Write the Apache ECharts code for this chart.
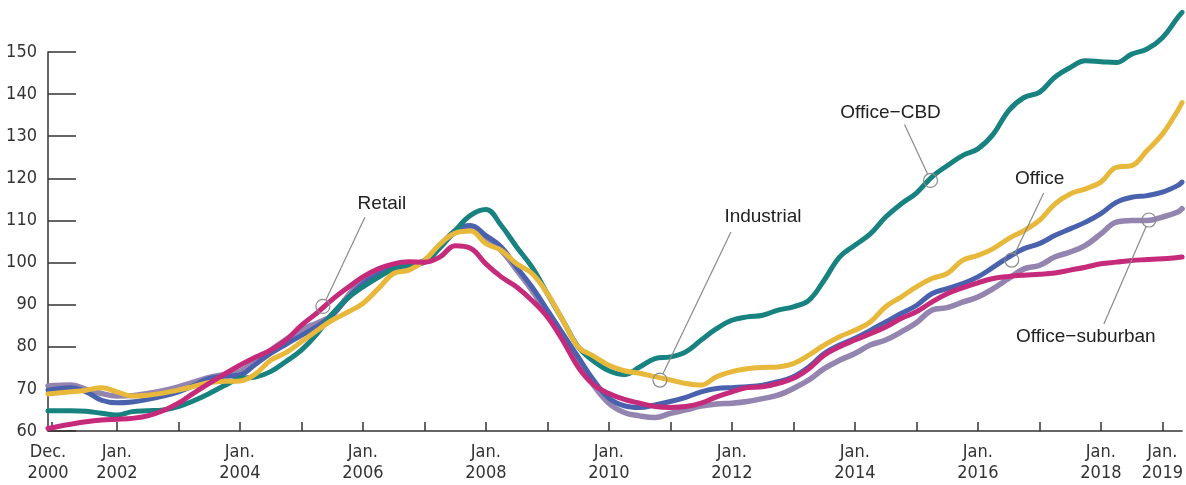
<!DOCTYPE html>
<html>
<head>
<meta charset="utf-8">
<script src="https://cdn.jsdelivr.net/npm/echarts@6/dist/echarts.min.js"></script>
<style>
  html, body { margin: 0; padding: 0; background: #ffffff; }
  #chart { width: 1186px; height: 485px; }
</style>
</head>
<body>
<div id="chart"></div>
<script>
// ---- Data (decimal years; quarterly readings) ----
const dates = [2000.88,
  2001.25, 2001.5, 2001.75, 2002, 2002.25, 2002.5, 2002.75, 2003, 2003.25, 2003.5, 2003.75, 2004,
  2004.25, 2004.5, 2004.75, 2005, 2005.25, 2005.5, 2005.75, 2006, 2006.25, 2006.5, 2006.75, 2007,
  2007.25, 2007.5, 2007.75, 2008, 2008.25, 2008.5, 2008.75, 2009, 2009.25, 2009.5, 2009.75, 2010,
  2010.25, 2010.5, 2010.75, 2011, 2011.25, 2011.5, 2011.75, 2012, 2012.25, 2012.5, 2012.75, 2013,
  2013.25, 2013.5, 2013.75, 2014, 2014.25, 2014.5, 2014.75, 2015, 2015.25, 2015.5, 2015.75, 2016,
  2016.25, 2016.5, 2016.75, 2017, 2017.25, 2017.5, 2017.75, 2018, 2018.25, 2018.5, 2018.75, 2019,
  2019.25, 2019.32];

const officeSuburban = [70.7,
  70.9, 69.9, 68.9, 68.3, 68.4, 68.9, 69.6, 70.5, 71.6, 72.7, 73.4, 74.1,
  76.5, 79.2, 81.7, 84.1, 85.6, 87.5, 92.0, 95.8, 97.4, 98.5, 99.3, 100.1,
  103.5, 107.2, 108.4, 106.0, 102.9, 98.2, 93.4, 87.9, 82.4, 76.8, 70.9, 66.6,
  64.4, 63.6, 63.2, 64.2, 65.0, 65.9, 66.4, 66.6, 67.0, 67.7, 68.5, 70.1,
  72.1, 74.8, 76.8, 78.4, 80.4, 81.6, 83.5, 85.7, 88.7, 89.3, 90.6, 91.8,
  93.8, 96.2, 98.5, 99.3, 101.3, 102.5, 104.1, 106.8, 109.6, 110.0, 110.0, 110.8,
  112.0, 112.8];

const office = [69.7,
  70.3, 69.3, 67.3, 66.7, 66.9, 67.5, 68.3, 69.3, 70.8, 72.5, 73.0, 73.3,
  75.8, 78.4, 80.6, 82.7, 84.8, 87.5, 91.5, 95.0, 97.2, 98.8, 99.5, 100.5,
  104.0, 107.6, 108.8, 106.4, 103.7, 98.9, 94.2, 88.7, 83.1, 77.6, 72.1, 67.8,
  66.0, 65.6, 66.2, 67.0, 68.0, 69.3, 70.1, 70.3, 70.5, 70.9, 71.7, 72.9,
  75.2, 78.4, 80.4, 82.0, 83.9, 85.9, 87.9, 89.8, 92.6, 93.8, 95.0, 96.6,
  98.9, 101.3, 103.3, 104.5, 106.4, 108.0, 109.6, 111.6, 114.3, 115.5, 115.9, 116.7,
  118.3, 119.1];

const officeCBD = [64.8,
  64.8, 64.7, 64.2, 63.8, 64.6, 64.8, 65.0, 65.8, 67.2, 68.9, 70.8, 72.5,
  72.8, 74.1, 76.5, 79.2, 83.0, 87.8, 91.5, 94.2, 96.5, 98.5, 99.5, 100.1,
  103.5, 107.6, 111.2, 112.6, 108.8, 103.7, 98.9, 92.6, 86.3, 80.0, 76.6, 74.3,
  73.4, 75.2, 77.2, 77.6, 78.8, 81.6, 84.3, 86.3, 87.1, 87.5, 88.7, 89.5,
  91.0, 95.8, 101.3, 104.1, 106.8, 110.8, 113.9, 116.5, 120.3, 123.0, 125.4, 127.0,
  130.5, 136.1, 139.2, 140.4, 144.0, 146.3, 147.9, 147.7, 147.5, 149.5, 150.7, 153.4,
  158.2, 159.4];

const industrial = [68.8,
  69.3, 69.7, 70.3, 69.3, 68.3, 68.5, 69.0, 69.7, 70.6, 71.5, 71.8, 71.9,
  73.5, 76.8, 78.6, 81.2, 83.8, 86.3, 88.2, 90.3, 93.8, 97.4, 98.2, 100.5,
  104.3, 107.0, 107.5, 104.5, 102.9, 99.7, 97.4, 92.6, 86.3, 80.0, 77.8, 75.6,
  74.3, 73.7, 72.9, 72.1, 71.3, 70.9, 72.9, 74.1, 74.8, 75.1, 75.2, 76.0,
  78.0, 80.4, 82.4, 83.9, 85.9, 89.5, 91.8, 94.2, 96.2, 97.4, 100.5, 101.7,
  103.3, 105.7, 107.6, 110.0, 113.9, 116.3, 117.5, 119.1, 122.6, 123.0, 126.6, 130.5,
  136.1, 138.0];

const retail = [60.6,
  61.6, 62.2, 62.6, 62.8, 63.0, 63.6, 64.8, 66.6, 69.0, 71.3, 73.5, 75.6,
  77.5, 79.2, 81.6, 85.1, 88.0, 91.2, 94.0, 96.6, 98.5, 99.7, 100.2, 100.1,
  101.3, 104.0, 103.4, 99.7, 96.6, 94.2, 91.0, 87.1, 81.5, 75.2, 71.0, 68.9,
  67.5, 66.6, 65.8, 65.6, 65.8, 66.6, 68.1, 69.3, 70.3, 70.5, 71.3, 72.5,
  74.8, 78.0, 80.0, 81.6, 83.1, 84.7, 86.7, 88.3, 90.6, 92.6, 94.0, 95.2,
  96.2, 96.7, 97.0, 97.2, 97.5, 98.2, 98.9, 99.7, 100.1, 100.5, 100.7, 100.9,
  101.2, 101.3];

// Axis ticks and labels
const xTickYears = [2000.94, 2002, 2003, 2004, 2005, 2006, 2007, 2008, 2009, 2010,
  2011, 2012, 2013, 2014, 2015, 2016, 2017, 2018, 2019];
const xLabelYears = [2000.88, 2002, 2004, 2006, 2008, 2010, 2012, 2014, 2016, 2018, 2019];
const xLabelTexts = ['Dec.\n2000', 'Jan.\n2002', 'Jan.\n2004', 'Jan.\n2006', 'Jan.\n2008',
  'Jan.\n2010', 'Jan.\n2012', 'Jan.\n2014', 'Jan.\n2016', 'Jan.\n2018', 'Jan.\n2019'];
const yTicks = [60, 70, 80, 90, 100, 110, 120, 130, 140, 150];

// Annotations
const annoNames = ['Retail', 'Industrial', 'Office\u2212CBD', 'Office', 'Office\u2212suburban'];
const annoYears = [2005.35, 2010.83, 2015.23, 2016.55, 2018.78];
const annoValues = [89.6, 72.1, 119.5, 100.6, 110.1];
const annoTextOffsets = [[59, -103], [103, -163], [-40, -68], [28, -81], [-63, 117]];
const annoLeaderOffsets = [[42, -89], [71, -148], [-26, -56], [32, -67], [-45, 104]];

const colors = {
  officeSuburban: '#9384b0',
  office: '#4a62ad',
  officeCBD: '#178280',
  industrial: '#e8b83b',
  retail: '#c62a7b'
};

function pairs(vals) { return dates.map((d, i) => [d, vals[i]]); }

const chart = echarts.init(document.getElementById('chart'), null, { renderer: 'canvas' });
const tickFont = '"Liberation Sans Narrow", "DejaVu Sans Condensed", "Arial Narrow", sans-serif';

function mkSeries(name, vals, color, width) {
  return {
    name: name, type: 'line', data: pairs(vals), showSymbol: false, symbol: 'none',
    smooth: 0.4, clip: false, silent: true,
    lineStyle: { color: color, width: width, cap: 'round', join: 'round' }
  };
}

chart.setOption({
  animation: false,
  backgroundColor: '#ffffff',
  grid: { left: 48, right: 0, top: 52, bottom: 54, containLabel: false },
  xAxis: {
    type: 'value', min: 2000.88, max: 2019.32,
    splitLine: { show: false },
    axisLine: { show: true, lineStyle: { color: '#333', width: 1.5 } },
    axisTick: { show: true, inside: true, length: 9, customValues: xTickYears,
      lineStyle: { color: '#333', width: 1.5 } },
    axisLabel: {
      customValues: xLabelYears,
      formatter: function (v) {
        let best = 0, bd = 1e9;
        xLabelYears.forEach((y, i) => { const d = Math.abs(y - v); if (d < bd) { bd = d; best = i; } });
        return xLabelTexts[best];
      },
      fontFamily: tickFont, fontSize: 18, color: '#333', lineHeight: 21, margin: 11
    }
  },
  yAxis: {
    type: 'value', min: 60, max: 150, interval: 10,
    splitLine: { show: false },
    axisLine: { show: true, lineStyle: { color: '#333', width: 1.5 } },
    axisTick: { show: true, inside: true, length: 28, lineStyle: { color: '#333', width: 1.5 } },
    axisLabel: { fontFamily: tickFont, fontSize: 18, color: '#333', margin: 11 }
  },
  series: [
    mkSeries('Office\u2212suburban', officeSuburban, colors.officeSuburban, 5.5),
    mkSeries('Office', office, colors.office, 5),
    mkSeries('Office\u2212CBD', officeCBD, colors.officeCBD, 5),
    mkSeries('Industrial', industrial, colors.industrial, 5),
    mkSeries('Retail', retail, colors.retail, 5)
  ]
});

// Annotation graphics anchored to data coordinates
const R = 7;
const graphics = [];
annoNames.forEach((name, i) => {
  const c = chart.convertToPixel({ gridIndex: 0 }, [annoYears[i], annoValues[i]]);
  const lo = annoLeaderOffsets[i];
  const len = Math.sqrt(lo[0] * lo[0] + lo[1] * lo[1]);
  const ex = c[0] + lo[0] / len * R, ey = c[1] + lo[1] / len * R;
  graphics.push({
    type: 'circle', shape: { cx: c[0], cy: c[1], r: R }, z: 100, silent: true,
    style: { fill: 'none', stroke: '#8a8a8a', lineWidth: 1.2 }
  });
  graphics.push({
    type: 'line', shape: { x1: c[0] + lo[0], y1: c[1] + lo[1], x2: ex, y2: ey }, z: 100, silent: true,
    style: { stroke: '#8a8a8a', lineWidth: 1.2 }
  });
  graphics.push({
    type: 'text', x: c[0] + annoTextOffsets[i][0], y: c[1] + annoTextOffsets[i][1], z: 100, silent: true,
    style: { text: name, align: 'center', verticalAlign: 'middle',
      font: '19px "Liberation Sans", Arial, sans-serif', fill: '#222' }
  });
});
chart.setOption({ graphic: graphics });
</script>
</body>
</html>
